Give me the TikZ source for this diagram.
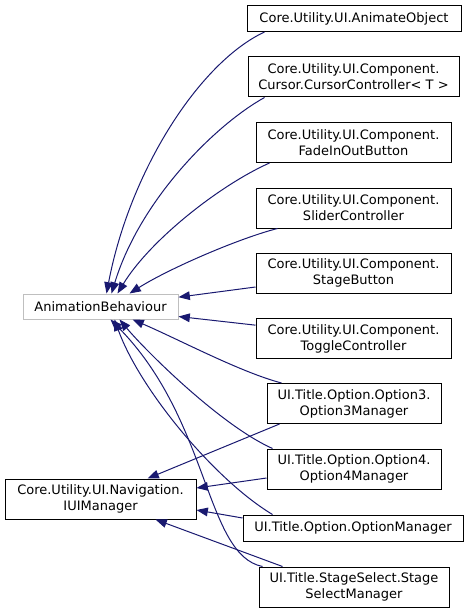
\documentclass[tikz,border=0pt]{standalone}
\usepackage{fontspec}
\setmainfont{DejaVu Sans}
\usetikzlibrary{arrows.meta}
\definecolor{edgecol}{HTML}{191970}
\definecolor{greyb}{HTML}{BFBFBF}
\tikzset{
  box/.style={draw=black, line width=0.75pt, fill=white, inner sep=0pt, align=center,
    font=\fontsize{9.75pt}{12pt}\selectfont},
  one/.style={box, minimum height=19.5pt},
  two/.style={box, minimum height=30pt},
  edge/.style={draw=edgecol, line width=0.75pt, -{Triangle[length=8.5pt,width=6.5pt]}}
}
\begin{document}
\begin{tikzpicture}[x=0.75pt,y=-0.75pt]
\useasboundingbox (0,0) rectangle (469,613);
% base classes
\node[one, draw=greyb, minimum width=116.25pt, minimum height=18.75pt] (ab) at (100.5,306.5) {AnimationBehaviour};
\node[two, minimum width=143.25pt] (iui) at (100.5,499) {Core.Utility.UI.Navigation.\\IUIManager};
% derived classes
\node[one, minimum width=160.5pt] (ao) at (354,18.5) {Core.Utility.UI.AnimateObject};
\node[two, minimum width=158.25pt] (cur) at (353.5,77) {Core.Utility.UI.Component.\\Cursor.CursorController< T >};
\node[two, minimum width=146.25pt] (fade) at (353.5,142.5) {Core.Utility.UI.Component.\\FadeInOutButton};
\node[two, minimum width=146.25pt] (sld) at (353.5,208) {Core.Utility.UI.Component.\\SliderController};
\node[two, minimum width=146.25pt] (stb) at (353.5,273) {Core.Utility.UI.Component.\\StageButton};
\node[two, minimum width=146.25pt] (tog) at (353.5,338.5) {Core.Utility.UI.Component.\\ToggleController};
\node[two, minimum width=130.5pt] (o3) at (354,403.5) {UI.Title.Option.Option3.\\Option3Manager};
\node[two, minimum width=130.5pt] (o4) at (354,469) {UI.Title.Option.Option4.\\Option4Manager};
\node[one, minimum width=165pt] (om) at (353,528) {UI.Title.Option.OptionManager};
\node[two, minimum width=142.5pt] (ss) at (354,587) {UI.Title.StageSelect.Stage\\SelectManager};
% edges to AnimationBehaviour
\draw[edge] ([xshift=13.5pt]ao.south west) .. controls (200,62) and (130,170) .. ([xshift=63pt]ab.north west);
\draw[edge] ([xshift=12.75pt]cur.south west) .. controls (215,125) and (140,200) .. ([xshift=66.75pt]ab.north west);
\draw[edge] ([xshift=10.5pt]fade.south west) .. controls (220,185) and (150,240) .. ([xshift=71.25pt]ab.north west);
\draw[edge] ([xshift=16.5pt]sld.south west) .. controls (240,238) and (170,268) .. ([xshift=80.25pt]ab.north west);
\draw[edge] ([yshift=-10.5pt]stb.west) -- ([yshift=7pt]ab.east);
\draw[edge] ([yshift=10pt]tog.west) -- ([yshift=-7.5pt]ab.east);
\draw[edge] ([xshift=11.25pt]o3.north west) .. controls (240,372) and (180,340) .. ([xshift=82.5pt]ab.south west);
\draw[edge] ([xshift=4.5pt]o4.north west) .. controls (220,425) and (145,350) .. ([xshift=72.75pt]ab.south west);
\draw[edge] ([xshift=22.5pt]om.north west) .. controls (215,480) and (140,390) .. ([xshift=69pt]ab.south west);
\draw[edge] ([xshift=3pt]ss.north west) .. controls (205,555) and (210,420) .. ([xshift=66pt]ab.south west);
% edges to IUIManager
\draw[edge] ([xshift=9.75pt]o3.south west) -- ([xshift=107.25pt]iui.north west);
\draw[edge] ([yshift=-6.75pt]o4.west) -- ([yshift=8.25pt]iui.east);
\draw[edge] ([yshift=7.5pt]om.west) -- ([yshift=-8.25pt]iui.east);
\draw[edge] ([xshift=18pt]ss.north west) -- ([xshift=113.25pt]iui.south west);
\end{tikzpicture}
\end{document}
